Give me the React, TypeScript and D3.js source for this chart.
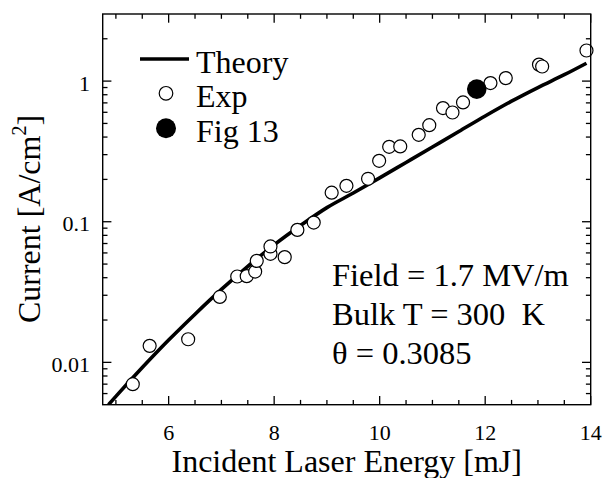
import React from "react";
import * as d3 from "d3";

const theoryX = [4.86, 5.0, 5.5, 6.0, 6.5, 7.0, 7.5, 8.0, 8.5, 9.0, 9.5, 10.0, 10.5, 11.0, 11.5, 12.0, 12.5, 13.0, 13.5, 13.92];
const theoryY = [0.005, 0.00573, 0.00918, 0.0144, 0.022, 0.033, 0.0482, 0.0685, 0.094, 0.126, 0.16, 0.205, 0.264, 0.34, 0.438, 0.565, 0.72, 0.9, 1.11, 1.34];

const expX = [5.32, 5.64, 6.37, 6.97, 7.3, 7.48, 7.64, 7.67, 7.93, 7.93, 8.2, 8.44, 8.75, 9.09, 9.37, 9.78, 9.99, 10.18, 10.39, 10.74, 10.94, 11.2, 11.38, 11.58, 12.1, 12.39, 13.02, 13.08, 13.92];
const expY = [0.007, 0.0131, 0.0146, 0.0292, 0.0408, 0.041, 0.0442, 0.0527, 0.0591, 0.0667, 0.056, 0.0875, 0.0986, 0.161, 0.18, 0.202, 0.271, 0.341, 0.343, 0.415, 0.486, 0.643, 0.598, 0.705, 0.968, 1.05, 1.31, 1.27, 1.65];

const fig13X = [11.84];
const fig13Y = [0.877];

const xMajorTicks = [6, 8, 10, 12, 14];
const yMajorTicks = [0.01, 0.1, 1];
const yTickLabels = ["0.01", "0.1", "1"];
const legendLabels = ["Theory", "Exp", "Fig 13"];
const annotations = ["Field = 1.7 MV/m", "Bulk T = 300  K", "\u03b8 = 0.3085"];

const W = 606;
const H = 478;
const L = 102.7, R = 590.7, T = 14, B = 404.7;
const FONT = "'Liberation Serif', 'Times New Roman', serif";

export default function App() {
  const x = d3.scaleLinear().domain([4.75, 14]).range([L, R]);
  const y = d3.scaleLog().domain([0.005, 3]).range([B, T]);

  const xMinor = d3.range(5, 14.01, 0.5).filter((v) => !xMajorTicks.includes(v));
  const yMinor: number[] = [];
  [0.001, 0.01, 0.1, 1].forEach((d) => {
    for (let k = 2; k <= 9; k++) {
      const v = d * k;
      if (v > 0.005 + 1e-9 && v < 3 - 1e-9) yMinor.push(v);
    }
  });

  const line = d3
    .line<number>()
    .x((_, i) => x(theoryX[i]))
    .y((_, i) => y(theoryY[i]))
    .curve(d3.curveMonotoneX);

  const majLen = 8.7;
  const minLen = 4.8;

  return (
    <svg width={W} height={H} style={{ position: "absolute", left: 0, top: 0, background: "#fff" }} fontFamily={FONT}>
      <defs>
        <clipPath id="plotclip">
          <rect x={L} y={T} width={R - L} height={B - T} />
        </clipPath>
      </defs>
      <rect x={0} y={0} width={W} height={H} fill="#fff" />
      {/* ticks */}
      <g stroke="#000" strokeWidth={1.3}>
        {xMajorTicks.map((v) => (
          <g key={"xM" + v}>
            <line x1={x(v)} x2={x(v)} y1={B} y2={B - majLen} />
            <line x1={x(v)} x2={x(v)} y1={T} y2={T + majLen} />
          </g>
        ))}
        {xMinor.map((v) => (
          <g key={"xm" + v}>
            <line x1={x(v)} x2={x(v)} y1={B} y2={B - minLen} />
            <line x1={x(v)} x2={x(v)} y1={T} y2={T + minLen} />
          </g>
        ))}
        {yMajorTicks.map((v) => (
          <g key={"yM" + v}>
            <line x1={L} x2={L + majLen} y1={y(v)} y2={y(v)} />
            <line x1={R} x2={R - majLen} y1={y(v)} y2={y(v)} />
          </g>
        ))}
        {yMinor.map((v) => (
          <g key={"ym" + v}>
            <line x1={L} x2={L + minLen} y1={y(v)} y2={y(v)} />
            <line x1={R} x2={R - minLen} y1={y(v)} y2={y(v)} />
          </g>
        ))}
      </g>
      {/* tick labels */}
      <g fontSize={22} fill="#000">
        {xMajorTicks.map((v) => (
          <text key={"xl" + v} x={x(v)} y={440} textAnchor="middle">
            {v}
          </text>
        ))}
        {yMajorTicks.map((v, i) => (
          <text key={"yl" + v} x={90} y={y(v) + 9.5} textAnchor="end">
            {yTickLabels[i]}
          </text>
        ))}
      </g>
      {/* theory curve */}
      <g clipPath="url(#plotclip)">
        <path d={line(theoryX) || ""} fill="none" stroke="#000" strokeWidth={3.6} />
      </g>
      {/* exp points */}
      {expX.map((v, i) => (
        <circle key={"e" + i} cx={x(v)} cy={y(expY[i])} r={6.5} fill="#fff" stroke="#000" strokeWidth={1.2} />
      ))}
      {fig13X.map((v, i) => (
        <circle key={"f" + i} cx={x(v)} cy={y(fig13Y[i])} r={9.8} fill="#000" />
      ))}
      {/* frame */}
      <rect x={L} y={T} width={R - L} height={B - T} fill="none" stroke="#000" strokeWidth={1.4} />
      {/* legend */}
      <g fontSize={32} fill="#000">
        <line x1={140} x2={189} y1={59} y2={59} stroke="#000" strokeWidth={3.6} />
        <text x={196} y={72.7}>{legendLabels[0]}</text>
        <circle cx={166} cy={93.3} r={6.8} fill="#fff" stroke="#000" strokeWidth={1.2} />
        <text x={196} y={106.7}>{legendLabels[1]}</text>
        <circle cx={166} cy={128.3} r={10} fill="#000" />
        <text x={196} y={141.7}>{legendLabels[2]}</text>
      </g>
      {/* annotations */}
      <g fontSize={32.5} fill="#000">
        {annotations.map((s, i) => (
          <text key={"a" + i} x={332} y={285.7 + i * 39.2} style={{ whiteSpace: "pre" }}>
            {s}
          </text>
        ))}
      </g>
      {/* axis titles */}
      <text x={(L + R) / 2} y={471.7} textAnchor="middle" fontSize={32} fill="#000">
        Incident Laser Energy [mJ]
      </text>
      <text transform={`translate(40,219) rotate(-90)`} textAnchor="middle" fontSize={32} fill="#000">
        Current [A/cm<tspan fontSize={20} dy={-14}>2</tspan><tspan dy={14}>]</tspan>
      </text>
    </svg>
  );
}
